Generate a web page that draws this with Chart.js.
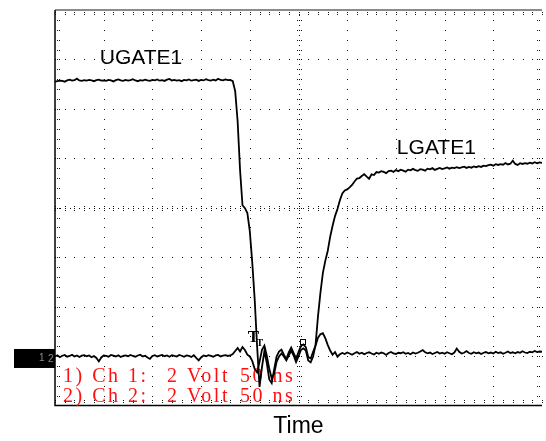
<!DOCTYPE html>
<html>
<head>
<meta charset="utf-8">
<script src="https://cdn.jsdelivr.net/npm/chart.js@4.4.1/dist/chart.umd.min.js"></script>
<style>
  body { margin: 0; background: #fff; }
  #wrap { width: 546px; height: 441px; }
</style>
</head>
<body>
<div id="wrap"><canvas id="scopeChart"></canvas></div>
<script>
// scope sample interval (ns) and screen: 10 div x 50 ns, 8 div x 2 V
const SAMPLE_NS = 2.5;
const TIME_MAX = 500;
const VOLT_MIN = -2;
const VOLT_MAX = 14;

const channelLabels = ['UGATE1', 'LGATE1'];
const infoLines = [
    ['1) Ch 1:', '2 Volt', '50 ns'],
    ['2) Ch 2:', '2 Volt', '50 ns']
];

// Ch 1 - UGATE1 (V), one value every 2.5 ns
const ugate = [
    11.10, 11.12, 11.14, 11.13, 11.10, 11.15, 11.18, 11.14, 11.16, 11.22,
    11.15, 11.13, 11.16, 11.14, 11.17, 11.15, 11.12, 11.16, 11.18, 11.14,
    11.15, 11.13, 11.17, 11.15, 11.11, 11.16, 11.19, 11.15, 11.13, 11.17,
    11.14, 11.16, 11.20, 11.15, 11.12, 11.16, 11.14, 11.18, 11.15, 11.13,
    11.17, 11.15, 11.19, 11.14, 11.16, 11.13, 11.18, 11.21, 11.15, 11.17,
    11.14, 11.16, 11.12, 11.17, 11.15, 11.19, 11.14, 11.16, 11.18, 11.13,
    11.17, 11.15, 11.20, 11.16, 11.14, 11.18, 11.15, 11.22, 11.17, 11.15,
    11.19, 11.16, 11.17,
    11.12, 10.72, 9.50, 7.52, 6.10, 5.98, 5.78, 5.05, 3.80, 2.30,
    0.40, -1.25, -0.45, 0.20, -0.30, -0.95, -1.10, -0.55, -0.02, 0.18,
    0.26, 0.05, -0.12, 0.15, 0.34, 0.12, -0.10, 0.16, 0.40, 0.47,
    0.36, -0.04, -0.10, 0.17, 0.42, 0.74, 0.88, 0.92, 0.72, 0.45,
    0.22, 0.05, 0.16, -0.03, 0.07,
    0.12, 0.08, 0.14, 0.10, 0.05, 0.11, 0.16, 0.09, 0.13, 0.07,
    0.12, 0.15, 0.10, 0.06, 0.13, 0.09, 0.14, 0.11, 0.04, 0.12,
    0.16, 0.10, 0.08, 0.13, 0.11, 0.15, 0.09, 0.12, 0.07, 0.14,
    0.10, 0.13, 0.18, 0.24, 0.15, 0.11, 0.14, 0.08, 0.12, 0.16,
    0.10, 0.13, 0.09, 0.15, 0.11, 0.07, 0.14, 0.30, 0.17, 0.10,
    0.13, 0.20, 0.12, 0.09, 0.15, 0.11, 0.14, 0.08, 0.13, 0.16,
    0.11, 0.14, 0.10, 0.17, 0.12, 0.15, 0.09, 0.13, 0.18, 0.12,
    0.15, 0.11, 0.16, 0.13, 0.19, 0.14, 0.12, 0.17, 0.15, 0.20,
    0.16, 0.18, 0.17
];

// Ch 2 - LGATE1 (V)
const lgate = [
    -0.02, 0.03, -0.05, 0.01, 0.04, -0.03, 0.00, 0.05, -0.02, 0.02,
    -0.04, 0.01, 0.03, -0.01, 0.02, -0.05, 0.00, -0.08, -0.22, -0.06,
    0.02, 0.00, -0.03, 0.04, 0.01, -0.02, 0.03, -0.04, 0.00, 0.02,
    -0.01, 0.04, 0.00, -0.03, 0.02, 0.05, -0.02, 0.01, -0.06, -0.12,
    0.00, 0.03, -0.02, 0.01, 0.04, -0.01, 0.02, -0.03, 0.03, 0.00,
    -0.02, 0.04, 0.01, -0.03, 0.02, 0.00, -0.04, 0.03, -0.08, -0.18,
    -0.06, 0.02, -0.01, 0.03, 0.00, -0.03, 0.02, 0.04, -0.02, 0.01,
    0.03, 0.00, 0.02,
    0.08, 0.20, 0.32, 0.18, 0.36, 0.24, 0.05, -0.02, -0.20, -0.52,
    -0.66, -0.24, 0.25, 0.42, 0.00, -0.52, -0.90, -0.72, -0.24, -0.02,
    0.10, -0.02, -0.18, 0.02, 0.22, 0.02, -0.25, -0.02, 0.24, 0.31,
    0.22, -0.18, -0.26, -0.02, 0.45, 1.60, 2.55, 3.35, 3.85, 4.25,
    4.82, 5.27, 5.66, 5.95, 6.30, 6.58, 6.70, 6.74, 6.82, 6.92,
    7.06, 7.18, 7.20, 7.28, 7.36, 7.26, 7.17, 7.35, 7.32, 7.44,
    7.42, 7.48, 7.45, 7.40, 7.48, 7.50, 7.45, 7.52, 7.48, 7.54,
    7.50, 7.46, 7.54, 7.51, 7.57, 7.52, 7.49, 7.56, 7.54, 7.50,
    7.58, 7.55, 7.60, 7.53, 7.57, 7.61, 7.56, 7.59, 7.63, 7.58,
    7.62, 7.60, 7.64, 7.60, 7.63, 7.66, 7.61, 7.65, 7.62, 7.67,
    7.64, 7.68, 7.65, 7.70, 7.68, 7.72, 7.74, 7.70, 7.76, 7.73,
    7.76, 7.74, 7.81, 7.75, 7.78, 7.90, 7.77, 7.73, 7.80, 7.77,
    7.80, 7.78, 7.82, 7.79, 7.84, 7.80, 7.83, 7.81
];

const toPoints = arr => arr.map((v, i) => ({ x: i * SAMPLE_NS, y: v }));

// dotted scope graticule, frame, ground marker and scope text
const scopePlugin = {
    id: 'scope',
    beforeDatasetsDraw(chart) {
        const ctx = chart.ctx;
        const xs = chart.scales.x, ys = chart.scales.y;
        const { left, right, top, bottom } = chart.chartArea;
        const px = v => Math.round(xs.getPixelForValue(v));
        const py = v => Math.round(ys.getPixelForValue(v));
        const dot = (x, y) => ctx.fillRect(x, y, 1, 1);

        const xMinor = [], yMinor = [];
        for (let i = 0; i <= 50; i++) xMinor.push(i * 10);
        for (let i = 0; i <= 40; i++) yMinor.push(VOLT_MIN + i * 0.4);

        ctx.save();
        ctx.fillStyle = '#111';
        // interior major lines
        for (let d = 1; d < 10; d++) {
            const x = px(d * 50);
            yMinor.forEach(v => dot(x, py(v)));
        }
        for (let d = 1; d < 8; d++) {
            const y = py(VOLT_MIN + d * 2);
            xMinor.forEach(t => dot(px(t), y));
        }
        // centre axes with small ticks
        const cx = px(250), cy = py(6);
        xMinor.forEach((t, i) => {
            const x = px(t);
            dot(x, cy - 2); dot(x, cy + 2);
            if (i < xMinor.length - 1) dot(px(t + 5), cy);
        });
        yMinor.forEach((v, i) => {
            const y = py(v);
            dot(cx - 2, y); dot(cx + 2, y);
            if (i < yMinor.length - 1) dot(cx, py(v + 0.2));
        });
        // edge ticks
        yMinor.forEach(v => {
            const y = py(v);
            dot(Math.round(left) + 2, y); dot(Math.round(left) + 4, y);
            dot(Math.round(right) - 3, y); dot(Math.round(right) - 5, y);
        });
        xMinor.forEach(t => {
            const x = px(t);
            dot(x, Math.round(top) + 2); dot(x, Math.round(top) + 4);
            dot(x, Math.round(bottom) - 3); dot(x, Math.round(bottom) - 5);
        });

        // frame
        ctx.strokeStyle = '#8a8a8a';
        ctx.lineWidth = 2;
        ctx.beginPath();
        ctx.moveTo(left, top); ctx.lineTo(right, top);
        ctx.stroke();
        ctx.strokeStyle = '#000';
        ctx.lineWidth = 1.5;
        ctx.beginPath();
        ctx.moveTo(left, top); ctx.lineTo(left, bottom); ctx.lineTo(right, bottom);
        ctx.stroke();

        // ground marker
        const g = ys.getPixelForValue(0);
        ctx.fillStyle = '#000';
        ctx.fillRect(14, g - 7, left - 14, 19);
        ctx.fillStyle = '#8c8c8c';
        ctx.font = '10px "Liberation Sans", Arial';
        ctx.textBaseline = 'middle';
        ctx.fillText('1', 39, g + 2);
        ctx.fillText('2', 48, g + 3);

        // channel settings text
        ctx.fillStyle = '#ff1010';
        ctx.font = '20px "Liberation Serif", "Times New Roman", serif';
        ctx.textBaseline = 'alphabetic';
        ctx.letterSpacing = '2.5px';
        infoLines.forEach((parts, i) => {
            const y = bottom - 23 + i * 20;
            ctx.fillText(parts[0], left + 8, y);
            ctx.fillText(parts[1], left + 112, y);
            ctx.fillText(parts[2], left + 185, y);
        });
        ctx.letterSpacing = '0px';
        ctx.restore();
    },
    afterDatasetsDraw(chart) {
        const ctx = chart.ctx;
        const xs = chart.scales.x, ys = chart.scales.y;
        ctx.save();
        ctx.fillStyle = '#000';
        ctx.font = '21px "Liberation Sans", Arial';
        ctx.textBaseline = 'alphabetic';
        ctx.fillText(channelLabels[0], xs.getPixelForValue(46), ys.getPixelForValue(11.8));
        ctx.fillText(channelLabels[1], xs.getPixelForValue(351), ys.getPixelForValue(8.17));

        // trigger markers
        ctx.font = 'bold 17px "Liberation Serif", serif';
        ctx.fillText('T', xs.getPixelForValue(198), ys.getPixelForValue(0.55));
        ctx.font = 'bold 10px "Liberation Serif", serif';
        ctx.fillText('T', xs.getPixelForValue(207), ys.getPixelForValue(0.4));
        ctx.strokeStyle = '#000';
        ctx.lineWidth = 1;
        const rx = xs.getPixelForValue(252), ry = ys.getPixelForValue(0.5);
        ctx.strokeRect(Math.round(rx) + 0.5, Math.round(ry) - 4.5, 5, 5);
        ctx.restore();
    }
};

const scopeCtx = document.getElementById('scopeChart').getContext('2d');
new Chart(scopeCtx, {
    type: 'line',
    data: {
        datasets: [{
            label: channelLabels[0],
            data: toPoints(ugate),
            borderColor: '#000',
            borderWidth: 1.8,
            pointRadius: 0,
            tension: 0
        }, {
            label: channelLabels[1],
            data: toPoints(lgate),
            borderColor: '#000',
            borderWidth: 1.8,
            pointRadius: 0,
            tension: 0
        }]
    },
    options: {
        responsive: true,
        maintainAspectRatio: false,
        animation: false,
        layout: { padding: { left: 55, top: 10, right: 4, bottom: 0 } },
        plugins: {
            legend: { display: false },
            tooltip: { enabled: false }
        },
        scales: {
            x: {
                type: 'linear',
                min: 0,
                max: TIME_MAX,
                ticks: { display: false },
                grid: { display: false, drawTicks: false },
                border: { display: false },
                title: {
                    display: true,
                    text: 'Time',
                    color: '#000',
                    font: { family: '"Liberation Sans", Arial', size: 23 },
                    padding: { top: 7, bottom: 1 }
                }
            },
            y: {
                display: false,
                min: VOLT_MIN,
                max: VOLT_MAX
            }
        }
    },
    plugins: [scopePlugin]
});
</script>
</body>
</html>
